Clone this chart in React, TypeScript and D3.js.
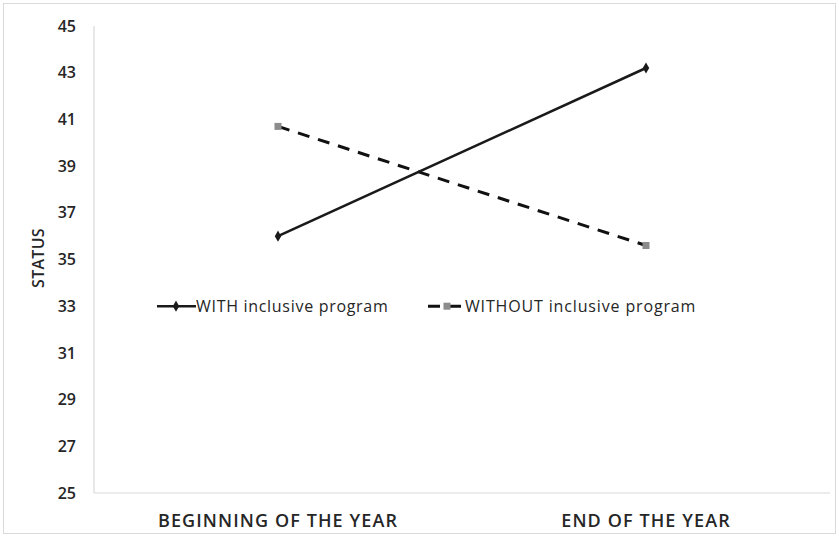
import React, { useEffect, useRef } from "react";
import * as d3 from "d3";

const categories = ["BEGINNING OF THE YEAR", "END OF THE YEAR"];
const withProgram = [36.0, 43.2];
const withoutProgram = [40.7, 35.6];
const yTicks = [25, 27, 29, 31, 33, 35, 37, 39, 41, 43, 45];
const seriesNames = ["WITH inclusive program", "WITHOUT inclusive program"];

const W = 839;
const H = 536;
const FONT = "'Open Sans', 'Liberation Sans', sans-serif";

const App = () => {
  const svgRef = useRef<SVGSVGElement | null>(null);

  useEffect(() => {
    if (!svgRef.current) return;
    const svg = d3.select(svgRef.current);
    svg.selectAll("*").remove();

    const margin = { top: 26, right: 9, bottom: 43, left: 94 };

    const x = d3
      .scaleBand<string>()
      .domain(categories)
      .range([margin.left, W - margin.right])
      .padding(0);
    const y = d3.scaleLinear().domain([25, 45]).range([H - margin.bottom, margin.top]);
    const cx = (c: string) => (x(c) ?? 0) + x.bandwidth() / 2;

    // outer frame
    svg.append("rect")
      .attr("x", 3.5).attr("y", 3.5)
      .attr("width", W - 7).attr("height", H - 6)
      .attr("fill", "#fff")
      .attr("stroke", "#d9d9d9");

    // axis lines
    svg.append("line")
      .attr("x1", margin.left).attr("x2", margin.left)
      .attr("y1", y(45)).attr("y2", y(25))
      .attr("stroke", "#d9d9d9").attr("stroke-width", 1.2);
    svg.append("line")
      .attr("x1", margin.left).attr("x2", W - margin.right)
      .attr("y1", y(25)).attr("y2", y(25))
      .attr("stroke", "#d9d9d9").attr("stroke-width", 1.2);

    // y tick labels
    svg.append("g")
      .selectAll("text")
      .data(yTicks)
      .join("text")
      .attr("x", 76)
      .attr("y", (d) => y(d))
      .attr("dy", "0.35em")
      .attr("text-anchor", "end")
      .attr("font-family", FONT)
      .attr("font-size", 16)
      .attr("font-weight", 600)
      .attr("fill", "#262626")
      .text((d) => d);

    // x labels
    svg.append("g")
      .selectAll("text")
      .data(categories)
      .join("text")
      .attr("x", (d) => cx(d))
      .attr("y", 527)
      .attr("text-anchor", "middle")
      .attr("font-family", FONT)
      .attr("font-size", 18)
      .attr("font-weight", 600)
      .attr("letter-spacing", 1.1)
      .attr("fill", "#262626")
      .text((d) => d);

    // y title
    svg.append("text")
      .attr("transform", `translate(44, 258) rotate(-90)`)
      .attr("text-anchor", "middle")
      .attr("font-family", FONT)
      .attr("font-size", 16)
      .attr("font-weight", 600)
      .attr("letter-spacing", 0.3)
      .attr("fill", "#262626")
      .text("STATUS");

    const line = d3
      .line<number>()
      .x((_, i) => cx(categories[i]))
      .y((d) => y(d));

    // WITHOUT series (dashed)
    svg.append("path")
      .datum(withoutProgram)
      .attr("d", line)
      .attr("fill", "none")
      .attr("stroke", "#111")
      .attr("stroke-width", 3)
      .attr("stroke-dasharray", "12,9");
    svg.append("g")
      .selectAll("rect")
      .data(withoutProgram)
      .join("rect")
      .attr("x", (_, i) => cx(categories[i]) - 3.5)
      .attr("y", (d) => y(d) - 3.5)
      .attr("width", 7).attr("height", 7)
      .attr("fill", "#8c8c8c");

    // WITH series (solid)
    svg.append("path")
      .datum(withProgram)
      .attr("d", line)
      .attr("fill", "none")
      .attr("stroke", "#1a1a1a")
      .attr("stroke-width", 2.6);
    const diamond = d3.symbol().type(d3.symbolDiamond).size(36);
    svg.append("g")
      .selectAll("path")
      .data(withProgram)
      .join("path")
      .attr("d", diamond)
      .attr("transform", (d, i) => `translate(${cx(categories[i])}, ${y(d)})`)
      .attr("fill", "#1a1a1a");

    // legend
    const ly = y(33);
    const lg = svg.append("g");
    lg.append("line")
      .attr("x1", 157).attr("x2", 196).attr("y1", ly).attr("y2", ly)
      .attr("stroke", "#1a1a1a").attr("stroke-width", 2.6);
    lg.append("path")
      .attr("d", diamond)
      .attr("transform", `translate(176, ${ly})`)
      .attr("fill", "#1a1a1a");
    lg.append("text")
      .attr("x", 196).attr("y", ly).attr("dy", "0.35em")
      .attr("font-family", FONT).attr("font-size", 16)
      .attr("letter-spacing", 0.7)
      .attr("fill", "#262626")
      .text(seriesNames[0]);

    lg.append("line")
      .attr("x1", 428).attr("x2", 464).attr("y1", ly).attr("y2", ly)
      .attr("stroke", "#111").attr("stroke-width", 3)
      .attr("stroke-dasharray", "12,9");
    lg.append("rect")
      .attr("x", 443.5).attr("y", ly - 3.5).attr("width", 7).attr("height", 7)
      .attr("fill", "#8c8c8c");
    lg.append("text")
      .attr("x", 465).attr("y", ly).attr("dy", "0.35em")
      .attr("font-family", FONT).attr("font-size", 16)
      .attr("letter-spacing", 0.85)
      .attr("fill", "#262626")
      .text(seriesNames[1]);
  }, []);

  return (
    <svg
      ref={svgRef}
      width={W}
      height={H}
      style={{ position: "absolute", left: 0, top: 0, background: "#fff" }}
    />
  );
};

export default App;
